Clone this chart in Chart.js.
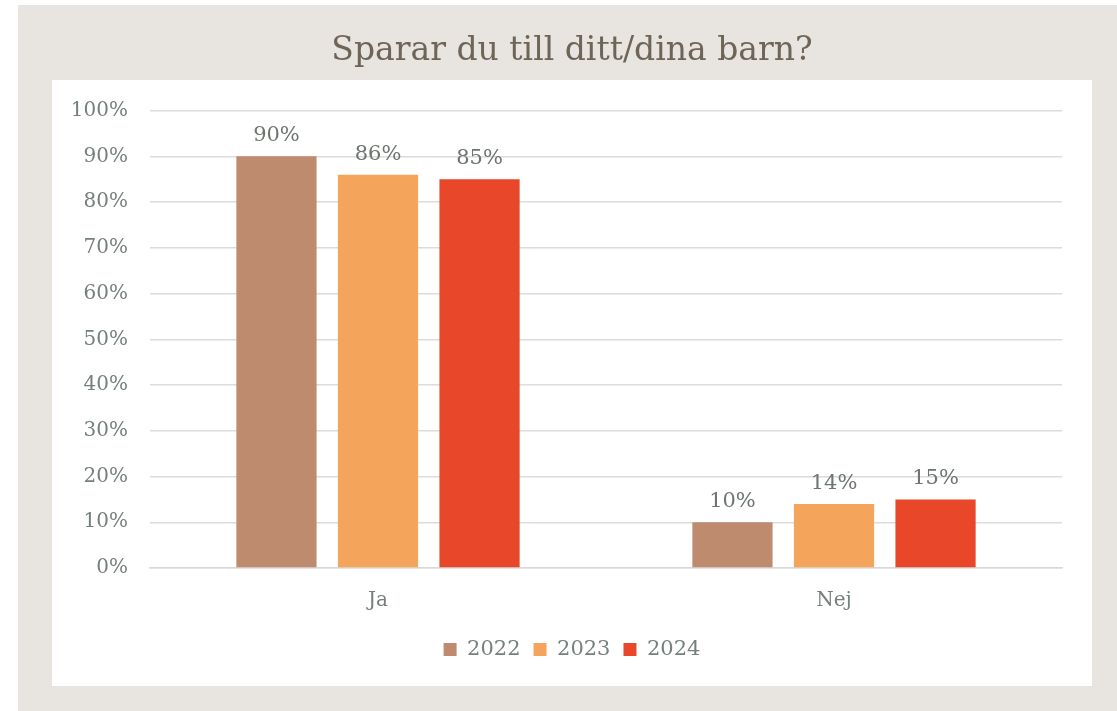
<!DOCTYPE html>
<html>
<head>
<meta charset="utf-8">
<script src="https://cdn.jsdelivr.net/npm/chart.js@4"></script>
<style>
  html, body { margin: 0; padding: 0; background: #ffffff; }
  #frame { position: absolute; left: 18px; top: 5px; width: 1099px; height: 706px; background: #e8e5e0; }
  #panel { position: absolute; left: 52px; top: 80px; width: 1040px; height: 606px; background: #ffffff; }
  #wrap { position: absolute; left: 0; top: 0; width: 1117px; height: 711px; }
</style>
</head>
<body>
<div id="frame"></div>
<div id="panel"></div>
<div id="wrap"><canvas id="chart" width="1117" height="711"></canvas></div>
<script>
const categories = ['Ja', 'Nej']
const years = ['2022', '2023', '2024']
const values2022 = [90, 10]
const values2023 = [86, 14]
const values2024 = [85, 15]
const yTicks = [0, 10, 20, 30, 40, 50, 60, 70, 80, 90, 100]

const barColors = ['#be8b6f', '#f5a55b', '#e8472a']
const textColor = '#76807a'
const fontFamily = '"DejaVu Serif", Georgia, serif'

// labels above each bar
const valueLabels = {
    id: 'valueLabels',
    afterDatasetsDraw(chart) {
        const ctx = chart.ctx
        ctx.save()
        ctx.font = '21px ' + fontFamily
        ctx.fillStyle = '#6d756f'
        ctx.textAlign = 'center'
        ctx.textBaseline = 'bottom'
        chart.data.datasets.forEach((ds, i) => {
            const meta = chart.getDatasetMeta(i)
            meta.data.forEach((bar, j) => {
                ctx.fillText(ds.data[j] + '%', bar.x, bar.y - 10)
            })
        })
        ctx.restore()
    }
}

new Chart(document.getElementById('chart'), {
    type: 'bar',
    data: {
        labels: categories,
        datasets: [
            { label: years[0], data: values2022, backgroundColor: barColors[0] },
            { label: years[1], data: values2023, backgroundColor: barColors[1] },
            { label: years[2], data: values2024, backgroundColor: barColors[2] }
        ]
    },
    options: {
        responsive: false,
        animation: false,
        categoryPercentage: 0.668,
        barPercentage: 0.79,
        layout: { padding: { left: 52, right: 25, top: 0, bottom: 41 } },
        plugins: {
            title: {
                display: true,
                text: 'Sparar du till ditt/dina barn?',
                color: '#6e6558',
                font: { family: fontFamily, size: 33, weight: 'normal' },
                padding: { top: 32, bottom: 39 }
            },
            legend: {
                position: 'bottom',
                labels: {
                    color: textColor,
                    font: { family: fontFamily, size: 21 },
                    boxWidth: 13,
                    boxHeight: 13,
                    padding: 13
                }
            },
            tooltip: { enabled: false }
        },
        scales: {
            x: {
                afterFit(scale) { scale.height = 58 },
                grid: { display: false, drawTicks: false },
                border: { color: '#d9d9d9', width: 1.5 },
                ticks: { color: textColor, font: { family: fontFamily, size: 20 }, padding: 21 }
            },
            y: {
                min: 0,
                max: 100,
                afterFit(scale) { scale.width = 98 },
                afterBuildTicks(scale) { scale.ticks = yTicks.map(v => ({ value: v })) },
                grid: { color: '#dcdcdc', lineWidth: 1.5, drawTicks: false },
                border: { display: false },
                ticks: {
                    color: textColor,
                    font: { family: fontFamily, size: 20 },
                    padding: 22,
                    callback: v => v + '%'
                }
            },
            // empty right axis, only keeps the plot clear of the panel edge
            yRight: {
                position: 'right',
                afterFit(scale) { scale.width = 30 },
                grid: { display: false, drawTicks: false },
                border: { display: false },
                ticks: { display: false }
            }
        }
    },
    plugins: [valueLabels]
})
</script>
</body>
</html>
